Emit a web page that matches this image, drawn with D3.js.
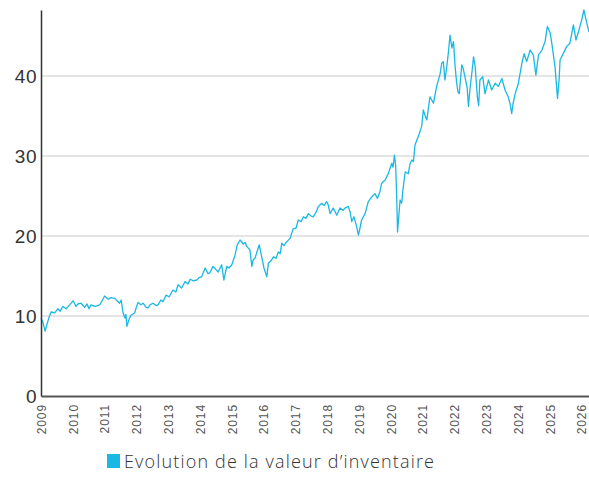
<!DOCTYPE html>
<html>
<head>
<meta charset="utf-8">
<script src="https://cdn.jsdelivr.net/npm/d3@7"></script>
<style>
  body { margin: 0; background: #fff; }
  svg { display: block; font-family: "Open Sans", Lato, sans-serif; }
  .grid line { stroke: #dcdcdc; stroke-width: 1.5; }
  .axis-y text { font-size: 19px; fill: #333; font-weight: 300; letter-spacing: 0.5px; }
  .axis-x text { font-size: 12px; fill: #555; font-weight: 300; letter-spacing: 0.9px; }
  .legend text { font-size: 18px; fill: #333; font-weight: 300; }
</style>
</head>
<body>
<div id="chart"></div>
<script>
;(function() {
  'use strict';
  // decimal year and inventory value
  var years = [
    2009.00, 2009.06, 2009.13, 2009.19, 2009.25, 2009.32, 2009.43, 2009.53, 2009.60, 2009.69,
    2009.79, 2009.88, 2010.01, 2010.10, 2010.16, 2010.26, 2010.37, 2010.45, 2010.51, 2010.57,
    2010.70, 2010.85, 2010.92, 2011.00, 2011.11, 2011.20, 2011.32, 2011.39, 2011.47, 2011.52,
    2011.58, 2011.64, 2011.67, 2011.70, 2011.77, 2011.83, 2011.95, 2011.99, 2012.05, 2012.14,
    2012.21, 2012.30, 2012.36, 2012.43, 2012.52, 2012.62, 2012.68, 2012.77, 2012.84, 2012.93,
    2013.03, 2013.15, 2013.24, 2013.31, 2013.42, 2013.53, 2013.62, 2013.69, 2013.78, 2013.90,
    2013.97, 2014.05, 2014.16, 2014.25, 2014.31, 2014.41, 2014.50, 2014.57, 2014.68, 2014.75,
    2014.84, 2014.91, 2015.00, 2015.10, 2015.17, 2015.26, 2015.36, 2015.42, 2015.47, 2015.57,
    2015.63, 2015.67, 2015.73, 2015.79, 2015.86, 2015.94, 2016.01, 2016.10, 2016.15, 2016.23,
    2016.31, 2016.39, 2016.46, 2016.52, 2016.57, 2016.64, 2016.73, 2016.83, 2016.93, 2017.02,
    2017.09, 2017.18, 2017.25, 2017.33, 2017.41, 2017.49, 2017.56, 2017.65, 2017.72, 2017.83,
    2017.90, 2017.98, 2018.03, 2018.09, 2018.19, 2018.30, 2018.40, 2018.50, 2018.56, 2018.66,
    2018.72, 2018.77, 2018.84, 2018.91, 2018.98, 2019.03, 2019.08, 2019.19, 2019.29, 2019.40,
    2019.50, 2019.58, 2019.66, 2019.71, 2019.82, 2019.92, 2019.97, 2020.03, 2020.07, 2020.11,
    2020.15, 2020.19, 2020.21, 2020.26, 2020.29, 2020.34, 2020.38, 2020.45, 2020.55, 2020.60,
    2020.66, 2020.71, 2020.76, 2020.86, 2020.97, 2021.02, 2021.08, 2021.13, 2021.23, 2021.34,
    2021.44, 2021.55, 2021.60, 2021.65, 2021.70, 2021.76, 2021.81, 2021.86, 2021.92, 2021.97,
    2022.02, 2022.07, 2022.11, 2022.15, 2022.23, 2022.27, 2022.33, 2022.40, 2022.44, 2022.49,
    2022.55, 2022.60, 2022.65, 2022.72, 2022.76, 2022.80, 2022.89, 2022.96, 2023.07, 2023.17,
    2023.28, 2023.38, 2023.49, 2023.59, 2023.69, 2023.75, 2023.80, 2023.84, 2023.91, 2024.01,
    2024.12, 2024.19, 2024.27, 2024.38, 2024.48, 2024.56, 2024.64, 2024.75, 2024.85, 2024.92,
    2025.01, 2025.06, 2025.16, 2025.24, 2025.29, 2025.32, 2025.42, 2025.53, 2025.63, 2025.74,
    2025.82, 2025.89, 2026.00, 2026.07, 2026.16, 2026.23
  ];
  var values = [
    9.7, 9.2, 8.1, 9.0, 9.8, 10.5, 10.4, 10.9, 10.6, 11.2,
    10.9, 11.3, 11.9, 11.2, 11.5, 11.6, 11.1, 11.5, 10.9, 11.4,
    11.2, 11.4, 11.9, 12.5, 12.1, 12.3, 12.2, 11.9, 11.6, 12.0,
    10.4, 9.75, 10.2, 8.7, 9.6, 10.1, 10.4, 11.0, 11.7, 11.4,
    11.6, 11.1, 11.0, 11.4, 11.6, 11.3, 11.4, 12.0, 11.8, 12.6,
    12.4, 13.25, 13.0, 13.9, 13.5, 14.3, 14.0, 14.6, 14.4, 14.5,
    14.8, 14.9, 16.0, 15.3, 15.4, 16.2, 15.8, 15.5, 16.4, 14.5,
    16.2, 16.0, 16.4, 17.6, 18.9, 19.5, 19.0, 19.2, 18.7, 18.25,
    16.2, 17.0, 17.25, 18.0, 18.9, 17.4, 16.0, 14.9, 16.6, 16.9,
    17.4, 17.2, 18.0, 17.8, 19.1, 18.8, 19.3, 19.7, 20.9, 21.0,
    22.0, 21.8, 22.4, 22.2, 22.8, 22.5, 22.4, 23.0, 23.7, 24.1,
    23.8, 24.3, 23.9, 22.8, 23.5, 22.6, 23.5, 23.2, 23.5, 23.7,
    23.0, 21.8, 22.4, 21.4, 20.1, 21.0, 22.0, 22.8, 24.3, 24.9,
    25.3, 24.7, 25.6, 26.6, 27.0, 27.8, 28.4, 29.1, 28.6, 30.1,
    28.9, 24.0, 20.5, 23.0, 24.5, 24.1, 25.8, 28.0, 27.8, 29.0,
    29.5, 29.3, 31.4, 32.4, 33.7, 35.75, 35.0, 34.5, 37.4, 36.6,
    38.7, 40.3, 41.6, 41.8, 39.5, 41.2, 43.0, 45.1, 43.5, 44.3,
    41.2, 39.1, 38.0, 37.8, 41.4, 41.0, 39.9, 38.5, 36.2, 38.5,
    40.5, 42.4, 41.2, 37.4, 36.3, 39.5, 39.9, 37.8, 39.5, 38.25,
    39.1, 38.7, 39.7, 38.25, 37.4, 36.5, 35.3, 36.5, 37.8, 39.1,
    41.6, 42.8, 41.8, 43.25, 42.6, 40.1, 42.6, 43.25, 44.3, 46.2,
    45.4, 44.1, 41.2, 37.2, 39.5, 42.0, 42.8, 43.7, 44.1, 46.4,
    44.5, 45.4, 47.0, 48.25, 46.6, 45.5
  ];
  var yTicks = [0, 10, 20, 30, 40];
  var xTicks = d3.range(2009, 2027);
  var legendLabel = 'Evolution de la valeur d\u2019inventaire';
  var lineColor = '#1bb8e4';

  var width = 589, height = 483,
      margin = {top: 10, right: 0, bottom: 87, left: 41};

  var x = d3.scaleLinear()
        .domain([2009, d3.max(years)])
        .range([margin.left, width - margin.right]),
      y = d3.scaleLinear()
        .domain([0, 48.25])
        .range([height - margin.bottom, margin.top]);

  var series = years.map(function(d, i) { return [d, values[i]]; });

  var svg = d3.select('#chart').append('svg')
    .attr('width', width)
    .attr('height', height);

  // grid lines
  svg.append('g')
    .classed('grid', true)
    .selectAll('line')
    .data(yTicks.filter(function(d) { return d > 0; }))
    .enter().append('line')
      .attr('x1', margin.left)
      .attr('x2', width - margin.right)
      .attr('y1', function(d) { return y(d); })
      .attr('y2', function(d) { return y(d); });

  // the series
  svg.append('path')
    .datum(series)
    .attr('fill', 'none')
    .attr('stroke', lineColor)
    .attr('stroke-width', 1.3)
    .attr('stroke-linejoin', 'round')
    .attr('d', d3.line()
      .x(function(d) { return x(d[0]); })
      .y(function(d) { return y(d[1]); }));

  // y axis
  var axisY = svg.append('g')
    .classed('axis-y', true)
    .attr('transform', 'translate(' + margin.left + ',0)')
    .call(d3.axisLeft(y).tickValues(yTicks).tickSize(0).tickPadding(4));
  axisY.select('.domain')
    .attr('stroke', '#333')
    .attr('stroke-width', 1.5);
  axisY.selectAll('text').attr('dy', '0.36em');

  // x axis
  var axisX = svg.append('g')
    .classed('axis-x', true)
    .attr('transform', 'translate(0,' + y(0) + ')')
    .call(d3.axisBottom(x).tickValues(xTicks).tickFormat(d3.format('d')).tickSize(0));
  axisX.select('.domain')
    .attr('stroke', '#555')
    .attr('stroke-width', 2);
  axisX.selectAll('text')
    .attr('transform', 'rotate(-90)')
    .attr('text-anchor', 'end')
    .attr('x', -8)
    .attr('y', 0)
    .attr('dy', '0.35em');

  // legend
  var legend = svg.append('g')
    .classed('legend', true)
    .attr('transform', 'translate(107,454)');
  legend.append('rect')
    .attr('width', 13)
    .attr('height', 14)
    .attr('fill', lineColor);
  legend.append('text')
    .attr('x', 17)
    .attr('y', 13.5)
    .attr('textLength', 310)
    .attr('lengthAdjust', 'spacing')
    .text(legendLabel);
})();
</script>
</body>
</html>
